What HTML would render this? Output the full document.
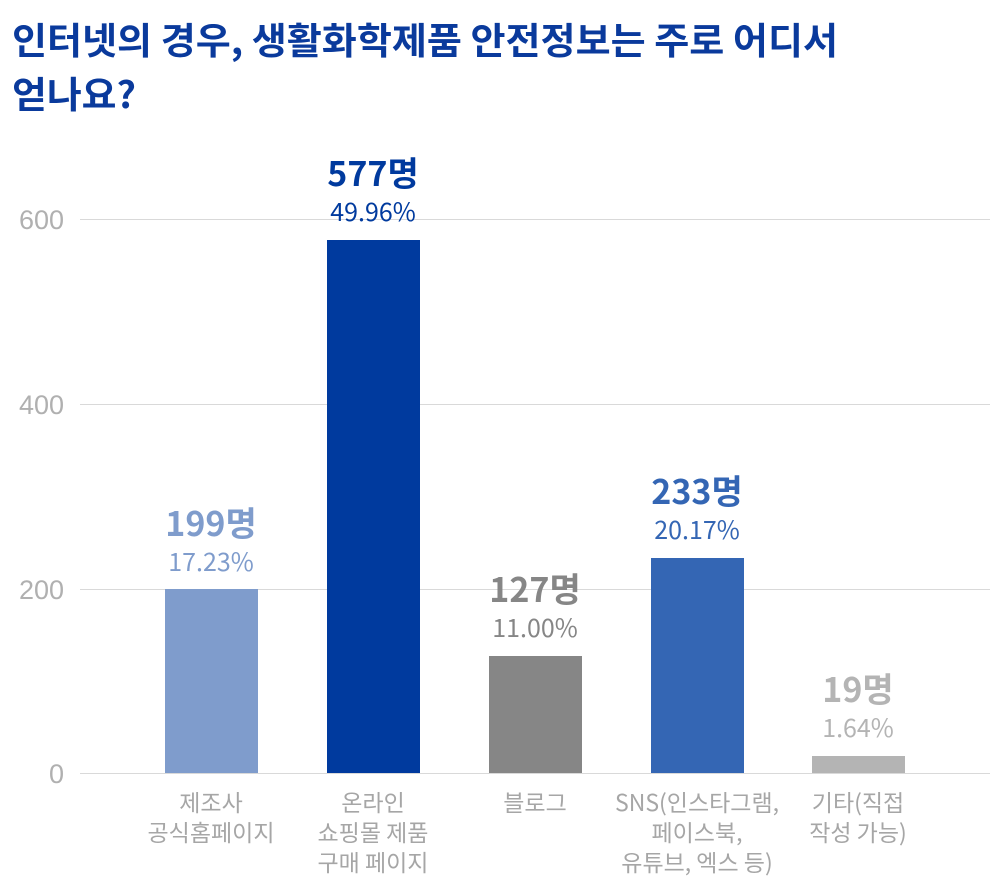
<!DOCTYPE html>
<html><head><meta charset="utf-8"><style>
body{margin:0;background:#fff;}
svg{display:block;font-family:"Liberation Sans","Noto Sans CJK KR",sans-serif;}
</style></head><body>
<svg width="1000" height="896" viewBox="0 0 1000 896">
<g font-family="'Noto Sans CJK KR',sans-serif" font-weight="bold" font-size="37" fill="#0a3a9c">
<text x="12" y="54" textLength="826" lengthAdjust="spacingAndGlyphs">인터넷의 경우, 생활화학제품 안전정보는 주로 어디서</text>
<text x="12" y="108" textLength="124" lengthAdjust="spacingAndGlyphs">얻나요?</text>
</g>
<g stroke="#d9d9d9" stroke-width="1">
<line x1="80" y1="219.5" x2="990" y2="219.5"/>
<line x1="80" y1="404.5" x2="990" y2="404.5"/>
<line x1="80" y1="589.5" x2="990" y2="589.5"/>
<line x1="80" y1="773.5" x2="990" y2="773.5"/>
</g>
<g fill="#b0b0b0" font-size="27" text-anchor="end">
<text x="64" y="229">600</text>
<text x="64" y="414">400</text>
<text x="64" y="599">200</text>
<text x="64" y="783">0</text>
</g>
<rect x="165" y="589" width="93" height="184" fill="#7f9ccc"/>
<rect x="327" y="240" width="93" height="533" fill="#003a9e"/>
<rect x="489" y="656" width="93" height="117" fill="#868686"/>
<rect x="651" y="558" width="93" height="215" fill="#3466b4"/>
<rect x="812" y="756" width="93" height="17" fill="#b4b4b4"/>
<g text-anchor="middle" font-family="'Noto Sans CJK KR',sans-serif">
<g font-weight="bold" font-size="34">
<text x="211" y="536" fill="#7f9ccc">199명</text>
<text x="373" y="186" fill="#003a9e">577명</text>
<text x="535" y="602" fill="#868686">127명</text>
<text x="697" y="504" fill="#3466b4">233명</text>
<text x="858" y="702" fill="#b4b4b4">19명</text>
</g>
<g font-size="25">
<text x="211" y="571" fill="#7f9ccc">17.23%</text>
<text x="373" y="221" fill="#003a9e">49.96%</text>
<text x="535" y="637" fill="#868686">11.00%</text>
<text x="697" y="539" fill="#3466b4">20.17%</text>
<text x="858" y="737" fill="#b4b4b4">1.64%</text>
</g>
<g font-size="23" fill="#a6a6a6">
<text x="211" y="811">제조사</text>
<text x="211" y="841">공식홈페이지</text>
<text x="373" y="811">온라인</text>
<text x="373" y="841">쇼핑몰 제품</text>
<text x="373" y="871">구매 페이지</text>
<text x="535" y="811">블로그</text>
<text x="697" y="811">SNS(인스타그램,</text>
<text x="697" y="841">페이스북,</text>
<text x="697" y="871">유튜브, 엑스 등)</text>
<text x="858" y="811">기타(직접</text>
<text x="858" y="841">작성 가능)</text>
</g>
</g>
</svg>
</body></html>
